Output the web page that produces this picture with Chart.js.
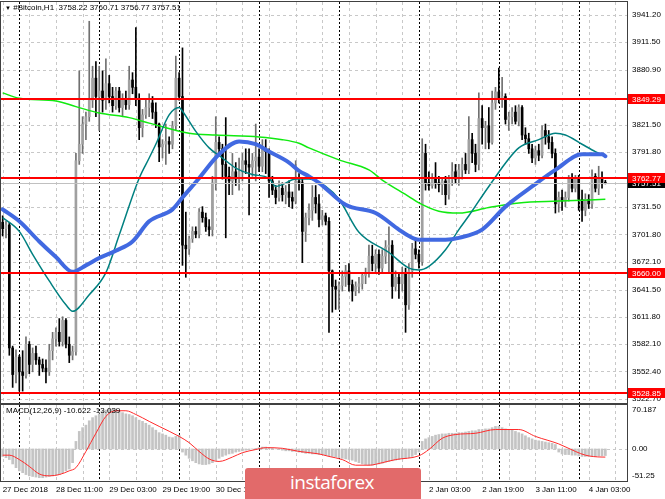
<!DOCTYPE html>
<html lang="en">
<head>
<meta charset="UTF-8">
<style>
  body { margin: 0; background: #fff; }
  #wrap { position: relative; width: 665px; height: 499px; overflow: hidden; background: #fff; font-family: "Liberation Sans", Arial, sans-serif; }
  .panel { position: absolute; left: 0; width: 665px; }
  .txt { position: absolute; font-size: 8px; line-height: 10px; color: #000; white-space: pre; }
  #logo { position: absolute; left: 245px; top: 468px; width: 176px; height: 40px; background: #e26a6a; border-radius: 3px; }
  #logo span { position: absolute; left: 45px; top: 5px; font-family: "Open Sans", sans-serif; font-size: 19px; line-height: 19px; letter-spacing: -0.5px; color: #fff; }
</style>
</head>
<body>
<div id="wrap">
  <div class="panel" style="top:0;height:404px"><canvas id="price-chart"></canvas></div>
  <div class="panel" style="top:404px;height:95px"><canvas id="macd-chart"></canvas></div>
  <div class="txt" style="left:5px;top:3px"><span style="font-size:6px">▼</span> #Bitcoin,H1  3758.22 3760.71 3756.77 3757.51</div>
  <div class="txt" style="left:6px;top:406px">MACD(12,26,9) -10.622 -13.039</div>
  <div id="logo"><span>instaforex</span></div>
</div>
<script src="https://cdnjs.cloudflare.com/ajax/libs/Chart.js/4.4.1/chart.umd.min.js"></script>
<script>
    // H1 bars, the first one is 27 Dec 2018 19:00, last one 4 Jan 06:00
    var opens = [
        3715, 3708, 3712, 3578, 3549, 3568, 3552, 3548, 3582, 3560,
        3572, 3565, 3560, 3556, 3552, 3575, 3588, 3595, 3585, 3608,
        3582, 3570, 3574, 3782, 3800, 3822, 3830, 3848, 3872, 3852,
        3858, 3848, 3866, 3852, 3842, 3858, 3840, 3850, 3843, 3870,
        3862, 3850, 3818, 3832, 3840, 3845, 3835, 3822, 3797, 3800,
        3803, 3800, 3820, 3872, 3852, 3690, 3686, 3697, 3705, 3702,
        3726, 3720, 3710, 3707, 3758, 3802, 3795, 3778, 3765, 3760,
        3770, 3762, 3770, 3782, 3778, 3775, 3782, 3786, 3776, 3795,
        3792, 3760, 3750, 3742, 3752, 3745, 3748, 3742, 3738, 3760,
        3758, 3705, 3720, 3728, 3742, 3735, 3718, 3722, 3716, 3662,
        3645, 3642, 3646, 3656, 3662, 3647, 3640, 3645, 3648, 3657,
        3660, 3678, 3670, 3680, 3665, 3678, 3688, 3690, 3645, 3655,
        3648, 3660, 3625, 3662, 3686, 3680, 3672, 3790, 3758, 3755,
        3762, 3758, 3756, 3760, 3745, 3762, 3770, 3762, 3772, 3778,
        3772, 3805, 3790, 3778, 3828, 3818, 3820, 3802, 3845, 3857,
        3850, 3852, 3827, 3830, 3835, 3825, 3840, 3810, 3806, 3795,
        3785, 3793, 3788, 3815, 3808, 3802, 3790, 3735, 3742, 3738,
        3742, 3762, 3752, 3762, 3740, 3728, 3740, 3735, 3765, 3752,
        3762, 3758.22
    ];
    var highs = [
        3722, 3716, 3715, 3580, 3576, 3570, 3575, 3590, 3585, 3578,
        3580, 3568, 3566, 3565, 3582, 3595, 3600, 3610, 3612, 3610,
        3590, 3580, 3790, 3880, 3830, 3835, 3934, 3885, 3890, 3885,
        3880, 3893, 3875, 3862, 3862, 3862, 3855, 3858, 3885, 3878,
        3927, 3855, 3838, 3850, 3855, 3852, 3845, 3823, 3805, 3822,
        3808, 3825, 3896, 3878, 3905, 3726, 3700, 3710, 3710, 3730,
        3732, 3725, 3718, 3765, 3830, 3808, 3800, 3829, 3775, 3790,
        3780, 3785, 3790, 3795, 3795, 3790, 3822, 3795, 3805, 3805,
        3795, 3765, 3755, 3760, 3758, 3755, 3760, 3748, 3782, 3768,
        3762, 3725, 3735, 3755, 3755, 3745, 3728, 3725, 3720, 3663,
        3652, 3650, 3662, 3668, 3670, 3652, 3650, 3655, 3660, 3665,
        3690, 3690, 3685, 3685, 3685, 3695, 3710, 3695, 3662, 3660,
        3666, 3665, 3670, 3692, 3695, 3685, 3806, 3800, 3770, 3768,
        3780, 3765, 3762, 3765, 3766, 3780, 3778, 3778, 3785, 3790,
        3830, 3812, 3800, 3856, 3842, 3825, 3840, 3858, 3862, 3883,
        3873, 3855, 3835, 3840, 3842, 3843, 3842, 3818, 3812, 3800,
        3798, 3800, 3820, 3822, 3815, 3808, 3795, 3748, 3750, 3748,
        3766, 3768, 3766, 3766, 3750, 3746, 3745, 3772, 3768, 3776,
        3770, 3760.71
    ];
    var lows = [
        3700, 3698, 3570, 3535, 3540, 3531, 3531, 3545, 3550, 3552,
        3560, 3548, 3552, 3540, 3548, 3565, 3580, 3580, 3580, 3578,
        3562, 3565, 3570, 3778, 3790, 3805, 3825, 3840, 3830, 3815,
        3835, 3838, 3845, 3835, 3838, 3835, 3830, 3838, 3838, 3855,
        3842, 3805, 3808, 3828, 3830, 3828, 3818, 3781, 3785, 3778,
        3790, 3795, 3815, 3848, 3668, 3655, 3680, 3693, 3698, 3698,
        3715, 3705, 3700, 3700, 3750, 3790, 3762, 3698, 3745, 3745,
        3755, 3750, 3760, 3768, 3723, 3765, 3760, 3770, 3770, 3768,
        3742, 3745, 3735, 3738, 3738, 3735, 3732, 3730, 3735, 3750,
        3671, 3694, 3712, 3717, 3725, 3710, 3712, 3712, 3595, 3617,
        3620, 3620, 3640, 3645, 3640, 3629, 3635, 3638, 3642, 3648,
        3655, 3662, 3660, 3658, 3660, 3670, 3660, 3632, 3640, 3632,
        3640, 3595, 3620, 3655, 3675, 3665, 3668, 3750, 3750, 3752,
        3752, 3748, 3745, 3734, 3740, 3755, 3758, 3755, 3762, 3768,
        3768, 3780, 3770, 3772, 3800, 3795, 3795, 3800, 3838, 3845,
        3840, 3822, 3815, 3822, 3822, 3820, 3805, 3800, 3790, 3780,
        3778, 3782, 3785, 3800, 3795, 3785, 3725, 3726, 3728, 3732,
        3738, 3748, 3748, 3728, 3716, 3722, 3730, 3730, 3748, 3745,
        3752, 3756.77
    ];
    var closes = [
        3708, 3712, 3578, 3549, 3568, 3552, 3548, 3582, 3560, 3572,
        3565, 3560, 3556, 3552, 3575, 3588, 3595, 3585, 3608, 3582,
        3570, 3574, 3782, 3800, 3822, 3830, 3848, 3872, 3852, 3858,
        3848, 3866, 3852, 3842, 3858, 3840, 3850, 3843, 3870, 3862,
        3850, 3818, 3832, 3840, 3845, 3835, 3822, 3797, 3800, 3803,
        3800, 3820, 3872, 3852, 3690, 3686, 3697, 3705, 3702, 3726,
        3720, 3710, 3707, 3758, 3802, 3795, 3778, 3765, 3760, 3770,
        3762, 3770, 3782, 3778, 3775, 3782, 3786, 3776, 3795, 3792,
        3760, 3750, 3742, 3752, 3745, 3748, 3742, 3738, 3760, 3758,
        3705, 3720, 3728, 3742, 3735, 3718, 3722, 3716, 3662, 3645,
        3642, 3646, 3656, 3662, 3647, 3640, 3645, 3648, 3657, 3660,
        3678, 3670, 3680, 3665, 3678, 3688, 3690, 3645, 3655, 3648,
        3660, 3625, 3662, 3686, 3680, 3672, 3790, 3758, 3755, 3762,
        3758, 3756, 3760, 3745, 3762, 3770, 3762, 3772, 3778, 3772,
        3805, 3790, 3778, 3828, 3818, 3820, 3802, 3845, 3857, 3850,
        3852, 3827, 3830, 3835, 3825, 3840, 3810, 3806, 3795, 3785,
        3793, 3788, 3815, 3808, 3802, 3790, 3735, 3742, 3738, 3742,
        3762, 3752, 3762, 3740, 3728, 3740, 3735, 3765, 3752, 3762,
        3758.22, 3757.51
    ];

    // moving averages as [bar, price]
    var blueMA = [[0, 3729], [5, 3716], [11, 3694], [16, 3677], [21, 3661], [25, 3668], [29, 3676],
        [34, 3684], [39, 3694], [44, 3716], [51, 3729], [54, 3742], [59, 3763], [65, 3789], [71, 3803],
        [76, 3800], [80, 3792], [86, 3780], [89, 3771], [92, 3765], [95, 3758], [103, 3734], [112, 3725],
        [119, 3707], [122, 3700], [125, 3696], [133, 3696], [137, 3698], [144, 3707], [151, 3732],
        [159, 3754], [166, 3772], [174, 3789], [180, 3789], [181, 3787]];
    var tealMA = [[0, 3720], [5, 3705], [9, 3680], [14, 3651], [19, 3625], [21, 3618], [26, 3636],
        [31, 3660], [35, 3701], [41, 3763], [44, 3785], [46, 3800], [50, 3832], [53, 3840], [54, 3836],
        [58, 3814], [62, 3796], [66, 3785], [70, 3774], [75, 3767], [80, 3763], [82, 3754], [84, 3756],
        [88, 3762], [92, 3762], [97, 3754], [101, 3740], [107, 3704], [116, 3682], [122, 3665],
        [125, 3663], [128, 3667], [133, 3685], [137, 3707], [140, 3722], [146, 3754], [155, 3796],
        [161, 3805], [166, 3812], [169, 3810], [174, 3800], [178, 3792], [181, 3787]];
    var greenMA = [[0, 3856], [5, 3850], [16, 3847], [22, 3841], [29, 3834], [38, 3829], [44, 3823],
        [56, 3812], [64, 3810], [77, 3808], [84, 3805], [89, 3801], [92, 3796], [101, 3783], [110, 3772],
        [114, 3761], [122, 3743], [125, 3736], [131, 3727], [137, 3725], [146, 3731], [155, 3736],
        [167, 3738], [181, 3740]];

    var levels = [3849.29, 3762.77, 3660.00, 3528.85];
    var lastPrice = 3757.51;
    var priceTicks = [3941.2, 3911.5, 3880.9, 3821.5, 3791.8, 3731.5, 3701.8, 3672.1, 3641.5, 3611.8, 3582.1, 3552.4, 3522.7];

    // MACD(12,26,9): main line as histogram, signal as red line
    var macdMain = [
        -12, -14, -17, -24, -30, -35, -38, -41, -43, -44,
        -45, -46, -46, -45, -44, -43, -42, -41, -38, -35,
        -32, -22, 12, 28, 34, 38, 45, 50, 53, 56,
        60, 62, 64, 64, 62, 60, 58, 56, 55, 53,
        50, 46, 44, 41, 38, 34, 30, 26, 24, 22,
        19, 18, 20, 22, -5, -10, -15, -19, -22, -24,
        -25, -25, -24, -22, -18, -15, -12, -10, -8, -7,
        -5, -4, -3, -2, -1, 0, 1, 2, 3, 3,
        2, 1, 0, -1, -2, -3, -3, -4, -4, -5,
        -6, -7, -7, -8, -8, -9, -9, -10, -11, -12,
        -13, -14, -15, -16, -17, -18, -20, -22, -24, -25,
        -26, -26, -25, -24, -23, -21, -20, -19, -18, -17,
        -16, -15, -14, -12, -9, -5, 12, 16, 18, 20,
        22, 23, 24, 24, 25, 25, 25, 26, 26, 27,
        28, 29, 29, 31, 31, 32, 32, 34, 36, 36,
        34, 32, 31, 30, 28, 26, 24, 21, 18, 16,
        14, 13, 12, 11, 10, 9, 7, -5, -8, -9,
        -9, -10, -10, -11, -12, -12, -12, -12, -12, -11,
        -11, -10.622
    ];
    var macdSignal = [[0, -10], [2, -10], [5, -17], [8, -28], [11, -40], [14, -43], [17, -41], [20, -35],
        [22, -30], [25, -4], [28, 25], [31, 52], [34, 61], [37, 61], [40, 55], [44, 44], [47, 36], [53, 20],
        [56, 10], [59, -4], [62, -16], [65, -20], [69, -13], [72, -6], [76, -1], [79, 2], [84, 1], [89, -4],
        [95, -8], [98, -12], [102, -17], [106, -26], [110, -26], [114, -22], [118, -17], [125, -11],
        [128, -1], [132, 17], [136, 23], [142, 25], [148, 31], [155, 31], [160, 20], [167, 8], [172, -4],
        [175, -10], [180, -13], [181, -13.039]];
    var macdTicks = [-51.25, 0, 70.187];
    var macdTickText = ['-51.25', '0.00', '70.187'];

    var timeTicks = ['27 Dec 2018', '28 Dec 11:00', '29 Dec 03:00', '29 Dec 19:00', '30 Dec 11:00', '31 Dec 03:00',
        '31 Dec 19:00', '1 Jan 11:00', '2 Jan 03:00', '2 Jan 19:00', '3 Jan 11:00', '4 Jan 03:00'];

    // category slots: 182 bars plus the empty shift on the right
    var slots = 188;
    var firstBar = Date.UTC(2018, 11, 27, 19);
    var labels = [], barHours = [];
    for (var i = 0; i < slots; i++) {
        var d = new Date(firstBar + i * 3600000);
        barHours.push(d.getUTCHours());
        labels.push(d.toISOString().slice(0, 13));
    }

    function sparse(points) {
        var arr = new Array(slots).fill(null);
        points.forEach(function (p) { arr[p[0]] = p[1]; });
        return arr;
    }

    var bull = closes.map(function (c, i) { return c >= opens[i]; });

    Chart.defaults.font.family = '"Liberation Sans", Arial, sans-serif';
    Chart.defaults.font.size = 8;
    Chart.defaults.color = '#000';

    // grid, day separators and frame like the terminal draws them
    function panelPlugin(hGrid) {
        return {
            id: 'mtPanel',
            beforeDatasetsDraw: function (chart) {
                var ctx = chart.ctx, a = chart.chartArea, x = chart.scales.x, y = chart.scales.y;
                ctx.save();
                ctx.beginPath();
                ctx.rect(a.left, a.top, a.right - a.left, a.bottom - a.top);
                ctx.clip();
                ctx.lineWidth = 1;
                ctx.strokeStyle = '#c8c8c8';
                ctx.setLineDash([3, 3]);
                ctx.beginPath();
                hGrid.forEach(function (v) {
                    var py = Math.round(y.getPixelForValue(v)) + 0.5;
                    ctx.moveTo(a.left, py);
                    ctx.lineTo(a.right, py);
                });
                for (var i = 0; i < slots; i += 8) {
                    var px = Math.round(x.getPixelForValue(i)) + 0.5;
                    ctx.moveTo(px, a.top);
                    ctx.lineTo(px, a.bottom);
                }
                ctx.stroke();
                ctx.strokeStyle = '#000';
                ctx.setLineDash([2, 2]);
                ctx.beginPath();
                barHours.forEach(function (h, i) {
                    if (h !== 0) return;
                    var px = Math.round(x.getPixelForValue(i)) + 0.5;
                    ctx.moveTo(px, a.top);
                    ctx.lineTo(px, a.bottom);
                });
                ctx.stroke();
                ctx.restore();
            },
            afterDraw: function (chart) {
                var ctx = chart.ctx, a = chart.chartArea;
                ctx.save();
                ctx.strokeStyle = '#404040';
                ctx.lineWidth = 1;
                ctx.strokeRect(a.left - 0.5, a.top - 0.5, a.right - a.left + 1, a.bottom - a.top + 1);
                ctx.restore();
            }
        };
    }

    // horizontal levels and their price tags
    var levelPlugin = {
        id: 'mtLevels',
        afterDatasetsDraw: function (chart) {
            var ctx = chart.ctx, a = chart.chartArea, y = chart.scales.y;
            ctx.save();
            ctx.strokeStyle = '#c0c0c0';
            ctx.lineWidth = 1;
            var py = Math.round(y.getPixelForValue(lastPrice)) + 0.5;
            ctx.beginPath();
            ctx.moveTo(a.left, py);
            ctx.lineTo(a.right, py);
            ctx.stroke();
            ctx.strokeStyle = '#ff0000';
            ctx.lineWidth = 2;
            levels.forEach(function (v) {
                var ly = Math.round(y.getPixelForValue(v));
                ctx.beginPath();
                ctx.moveTo(a.left, ly);
                ctx.lineTo(a.right, ly);
                ctx.stroke();
            });
            ctx.restore();
        },
        afterDraw: function (chart) {
            var ctx = chart.ctx, a = chart.chartArea, y = chart.scales.y;
            function tag(v, bg) {
                var ty = Math.round(y.getPixelForValue(v));
                ctx.fillStyle = bg;
                ctx.fillRect(a.right + 1, ty - 5, 37, 10);
                ctx.fillStyle = '#fff';
                ctx.fillText(v.toFixed(2), a.right + 5, ty + 0.5);
            }
            ctx.save();
            ctx.font = '8px "Liberation Sans", Arial, sans-serif';
            ctx.textBaseline = 'middle';
            tag(lastPrice, '#000');
            levels.forEach(function (v) { tag(v, '#ff0000'); });
            ctx.restore();
        }
    };

    new Chart(document.getElementById('price-chart'), {
        type: 'bar',
        data: {
            labels: labels,
            datasets: [
                { type: 'line', data: sparse(blueMA), borderColor: '#4169e1', borderWidth: 4, pointRadius: 0,
                  spanGaps: true, cubicInterpolationMode: 'monotone', borderCapStyle: 'round', borderJoinStyle: 'round', order: 1 },
                { type: 'line', data: sparse(tealMA), borderColor: '#008080', borderWidth: 1.5, pointRadius: 0,
                  spanGaps: true, cubicInterpolationMode: 'monotone', order: 2 },
                { type: 'line', data: sparse(greenMA), borderColor: '#10ea10', borderWidth: 1.5, pointRadius: 0,
                  spanGaps: true, cubicInterpolationMode: 'monotone', order: 3 },
                // candle bodies
                { data: opens.map(function (o, i) { return [Math.min(o, closes[i]), Math.max(o, closes[i])]; }),
                  backgroundColor: bull.map(function (b) { return b ? '#a0a0a0' : '#000'; }),
                  barThickness: 2, minBarLength: 1, grouped: false, order: 4 },
                // wicks
                { data: lows.map(function (l, i) { return [l, highs[i]]; }),
                  backgroundColor: bull.map(function (b) { return b ? '#707070' : '#000'; }),
                  barThickness: 1, grouped: false, order: 5 }
            ]
        },
        options: {
            responsive: true,
            maintainAspectRatio: false,
            animation: false,
            layout: { padding: { left: 1, top: 2, right: 0, bottom: 1 } },
            plugins: { legend: { display: false }, tooltip: { enabled: false } },
            scales: {
                x: { display: false, offset: true },
                y: {
                    position: 'right', min: 3518, max: 3955,
                    afterBuildTicks: function (s) { s.ticks = priceTicks.map(function (v) { return { value: v }; }); },
                    afterFit: function (s) { s.width = 38; s.paddingTop = 0; s.paddingBottom = 0; },
                    grid: { display: false, drawTicks: false },
                    border: { display: false },
                    ticks: { padding: 5, callback: function (v) { return v.toFixed(2); } }
                }
            }
        },
        plugins: [panelPlugin(priceTicks), levelPlugin]
    });

    new Chart(document.getElementById('macd-chart'), {
        type: 'bar',
        data: {
            labels: labels,
            datasets: [
                { type: 'line', data: sparse(macdSignal), borderColor: '#ff2a2a', borderWidth: 1, pointRadius: 0,
                  spanGaps: true, cubicInterpolationMode: 'monotone', order: 1 },
                { data: macdMain, backgroundColor: '#c4c4c4', barThickness: 2, grouped: false, order: 2 }
            ]
        },
        options: {
            responsive: true,
            maintainAspectRatio: false,
            animation: false,
            layout: { padding: { left: 1, top: 1, right: 0, bottom: 0 } },
            plugins: { legend: { display: false }, tooltip: { enabled: false } },
            scales: {
                x: {
                    offset: true,
                    grid: { display: false, drawTicks: false },
                    border: { display: false },
                    afterFit: function (s) { s.height = 18; s.paddingLeft = 0; s.paddingRight = 0; },
                    ticks: {
                        autoSkip: false, maxRotation: 0, minRotation: 0, align: 'start', padding: 4,
                        callback: function (v, i) { return i % 16 === 0 ? (timeTicks[i / 16] || '') : ''; }
                    }
                },
                y: {
                    position: 'right', min: macdTicks[0], max: macdTicks[2],
                    afterBuildTicks: function (s) { s.ticks = macdTicks.map(function (v) { return { value: v }; }); },
                    afterFit: function (s) { s.width = 38; s.paddingTop = 0; s.paddingBottom = 0; },
                    grid: { display: false, drawTicks: false },
                    border: { display: false },
                    ticks: {
                        padding: 5,
                        callback: function (v, i) {
                            if (i === 2) return ['', macdTickText[2]];
                            if (i === 0) return [macdTickText[0], ''];
                            return macdTickText[i];
                        }
                    }
                }
            }
        },
        plugins: [panelPlugin([0])]
    });
</script>
</body>
</html>
